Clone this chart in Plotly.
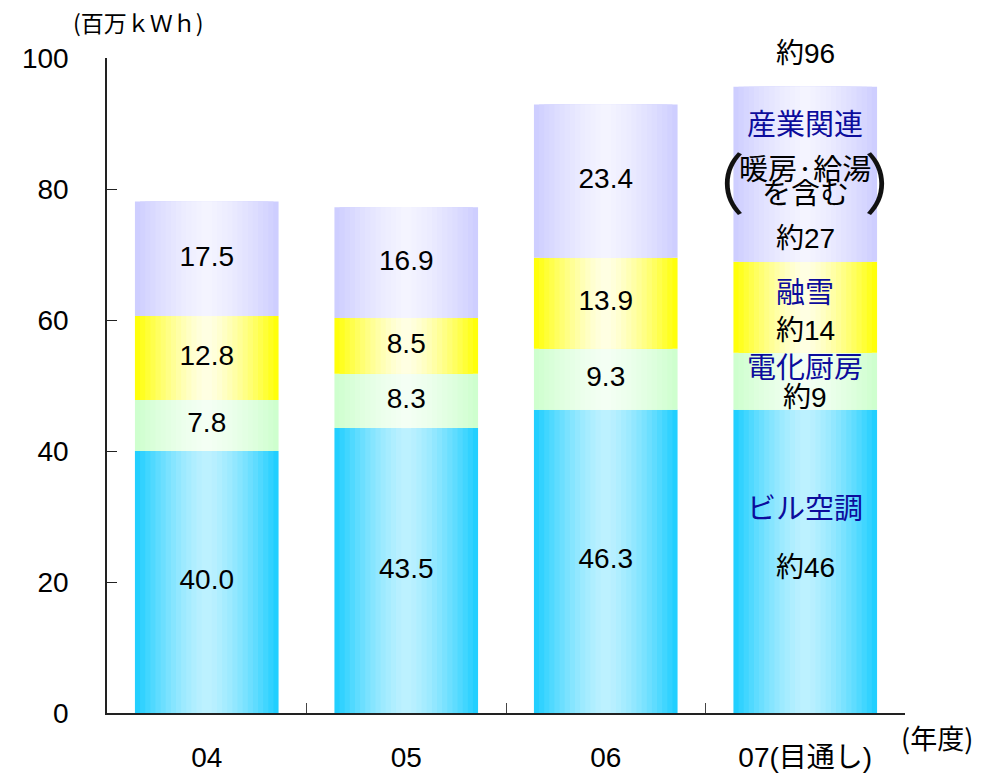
import plotly.graph_objects as go

# ---------------- data ----------------
years = ["04", "05", "06", "07(目通し)"]
building_ac = [40.0, 43.5, 46.3, 46.3]     # ビル空調
kitchen = [7.8, 8.3, 9.3, 8.7]             # 電化厨房
snow_melt = [12.8, 8.5, 13.9, 13.9]        # 融雪
industry = [17.5, 16.9, 23.4, 26.7]        # 産業関連
total_labels = ["78.1", "77.2", "92.9", "約96"]
seg_names = ["ビル空調", "電化厨房", "融雪", "産業関連"]
forecast_labels = ["約46", "約9", "約14", "約27"]

series = [building_ac, kitchen, snow_melt, industry]
# (edge colour, centre colour) for the horizontal gradient of each segment
grad = [((26, 205, 255), (190, 241, 255)),
        ((204, 255, 204), (244, 255, 244)),
        ((255, 255, 0), (255, 255, 228)),
        ((204, 204, 255), (244, 244, 255))]

FONT = "Liberation Sans, Arial, Noto Sans CJK JP"
CJK = "Noto Sans CJK JP, Liberation Sans"
NAVY = "#0c0c9c"

fig = go.Figure()

# bases
bases = []
acc = [0.0] * len(years)
for s in series:
    bases.append(list(acc))
    acc = [a + v for a, v in zip(acc, s)]
totals = acc

BAR_W = 0.72
N = 14
for s, b, (edge, centre) in zip(series, bases, grad):
    for i in range(N):
        frac = 1 - i / N               # relative half width of this layer
        d = 1 - (i + 0.5) / N          # distance used for colour
        f = d ** 1.4
        col = tuple(round(c + (e - c) * f) for e, c in zip(edge, centre))
        fig.add_trace(go.Bar(
            x=years, y=s, base=b, width=BAR_W * frac,
            marker=dict(color="rgb(%d,%d,%d)" % col, line=dict(width=0)),
            showlegend=False, hoverinfo="skip"))

# value labels inside segments for actual years
n_act = 3
for s, b in zip(series, bases):
    fig.add_trace(go.Scatter(
        x=years[:n_act], y=[bb + v / 2 for bb, v in zip(b[:n_act], s[:n_act])],
        mode="text", text=["%.1f" % v for v in s[:n_act]],
        textfont=dict(family=FONT, size=28, color="black"),
        showlegend=False, hoverinfo="skip"))

annotations = []
# total labels
for x, t, lab in zip(years, totals, total_labels):
    annotations.append(dict(x=x, y=t, text=lab, showarrow=False, yshift=33 if lab.startswith("約") else 30,
                            font=dict(family=FONT, size=28, color="black")))

# forecast bar annotations
x7 = years[3]
mids = [b[3] + s[3] / 2 for s, b in zip(series, bases)]
name_shift = [55, 16, 17, 52]
val_shift = [-6, -16, -23, -64]
for name, lab, m, ns, vs in zip(seg_names, forecast_labels, mids, name_shift, val_shift):
    annotations.append(dict(x=x7, y=m, text=name, showarrow=False, yshift=ns,
                            font=dict(family=CJK, size=29, color=NAVY)))
    annotations.append(dict(x=x7, y=m, text=lab, showarrow=False, yshift=vs,
                            font=dict(family=FONT, size=28, color="black")))
m4 = mids[3]
annotations.append(dict(x=x7, y=m4, text="暖房·給湯", showarrow=False, yshift=7,
                        font=dict(family=CJK, size=29, color="black")))
annotations.append(dict(x=x7, y=m4, text="を含む", showarrow=False, yshift=-17,
                        font=dict(family=CJK, size=29, color="black")))
annotations.append(dict(x=x7, y=m4, text="（", showarrow=False, yshift=-6, xshift=-93,
                        font=dict(family="Noto Sans CJK JP", size=66, color="#111")))
annotations.append(dict(x=x7, y=m4, text="）", showarrow=False, yshift=-6, xshift=92,
                        font=dict(family="Noto Sans CJK JP", size=66, color="#111")))

# unit and axis title
annotations.append(dict(xref="paper", yref="paper", x=-0.045, y=1.055, xanchor="left", yanchor="middle",
                        text="(百万ｋＷｈ)", showarrow=False,
                        font=dict(family=CJK, size=23, color="black")))
annotations.append(dict(xref="paper", yref="paper", x=1.04, y=-0.038, xanchor="center", yanchor="middle",
                        text="(年度)", showarrow=False,
                        font=dict(family=CJK, size=27, color="black")))

fig.update_layout(
    width=994, height=773,
    margin=dict(l=107, r=89, t=58, b=60, autoexpand=False),
    barmode="overlay",
    plot_bgcolor="white", paper_bgcolor="white",
    annotations=annotations,
    showlegend=False,
    xaxis=dict(type="category", range=[-0.5, 3.5], showline=True, linecolor="#222", linewidth=1.5,
               ticks="inside", tickson="boundaries", ticklen=10, tickcolor="#444", tickwidth=1,
               showgrid=False, zeroline=False, ticklabelstandoff=19, automargin=False,
               tickfont=dict(family=FONT, size=28, color="black")),
    yaxis=dict(range=[0, 100], dtick=20, showline=True, linecolor="#222", linewidth=1.5,
               ticks="inside", ticklen=10, tickcolor="#222", tickwidth=1,
               showgrid=False, zeroline=False, ticklabelstandoff=31, automargin=False,
               tickfont=dict(family=FONT, size=28, color="black")),
)

fig.write_html("out.html", config={"displayModeBar": False},
               post_script="document.body.style.margin='0';document.body.style.overflow='hidden';")
